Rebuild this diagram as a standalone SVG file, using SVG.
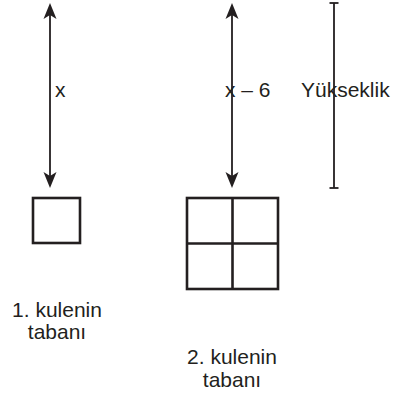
<svg xmlns="http://www.w3.org/2000/svg" width="397" height="393" viewBox="0 0 397 393">
<style>
.ln{stroke:#231f20;stroke-width:1.8;fill:none}
.box{stroke:#231f20;stroke-width:2.6;fill:none}
.ah{fill:#231f20}
.t{font-family:"Liberation Sans",Arial,sans-serif;font-size:21px;fill:#231f20}
</style>
<defs>
<path id="up" class="ah" d="M0,0 L6.5,16 L0,12 L-6.5,16 Z"/>
<path id="down" class="ah" d="M0,0 L6.5,-16 L0,-12 L-6.5,-16 Z"/>
</defs>
<g id="connectors">
<line class="ln" x1="50" y1="10" x2="50" y2="181"/>
<use href="#up" x="50" y="3"/>
<use href="#down" x="50" y="188"/>
<line class="ln" x1="232" y1="10" x2="232" y2="181"/>
<use href="#up" x="232" y="3"/>
<use href="#down" x="232" y="188"/>
<g id="height-bar">
<line class="ln" x1="334" y1="3" x2="334" y2="188"/>
<line class="ln" x1="329.5" y1="3" x2="338.5" y2="3"/>
<line class="ln" x1="329.5" y1="188" x2="338.5" y2="188"/>
</g>
</g>
<g id="label-x"><text class="t" x="55" y="97">x</text></g>
<g id="label-x6"><text class="t" x="225" y="97">x – 6</text></g>
<g id="label-height"><text class="t" x="301" y="97">Yükseklik</text></g>
<g id="base1">
<rect class="box" x="33" y="198" width="47" height="45"/>
</g>
<g id="base2">
<rect class="box" x="187" y="198" width="91" height="91"/>
<line class="box" x1="232.5" y1="198" x2="232.5" y2="289"/>
<line class="box" x1="187" y1="243.5" x2="278" y2="243.5"/>
</g>
<g id="label-base1">
<text class="t" x="57" y="317" text-anchor="middle">1. kulenin</text>
<text class="t" x="57" y="339" text-anchor="middle">tabanı</text>
</g>
<g id="label-base2">
<text class="t" x="232" y="364" text-anchor="middle">2. kulenin</text>
<text class="t" x="232" y="387" text-anchor="middle">tabanı</text>
</g>
</svg>
